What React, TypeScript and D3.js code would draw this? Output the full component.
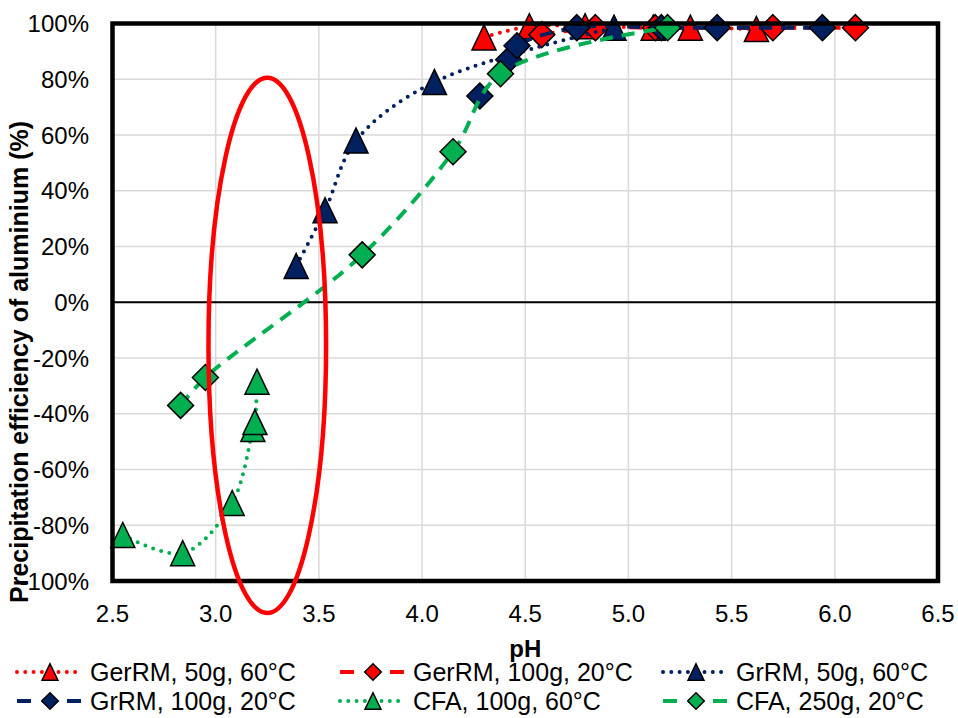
import React, { useEffect, useRef } from "react";
import * as d3 from "d3";

// axis ticks
const xTicks = [2.5, 3.0, 3.5, 4.0, 4.5, 5.0, 5.5, 6.0, 6.5];
const yTicks = [-100, -80, -60, -40, -20, 0, 20, 40, 60, 80, 100];

// [pH, precipitation efficiency %]
const gerRM50 = [[4.30, 95], [4.52, 99], [4.79, 99], [5.12, 98.5], [5.30, 98.5], [5.62, 98]];
const gerRM100 = [[4.58, 96], [4.84, 98.5], [5.13, 98.5], [5.70, 98.5], [6.10, 98.5]];
const grRM50 = [[3.39, 13], [3.53, 33], [3.68, 58], [4.06, 79], [4.93, 98.5]];
const grRM100 = [[4.28, 74], [4.42, 87], [4.46, 92], [4.75, 98.5], [5.16, 98.5], [5.43, 98.5], [5.94, 98.5]];
const cfa100 = [[2.55, -83.5], [2.84, -90], [3.08, -72], [3.18, -45.5], [3.19, -43], [3.20, -28.5]];
const cfa250 = [[2.83, -37], [2.95, -27], [3.71, 17], [4.15, 54], [4.38, 82], [5.19, 98.5]];

const seriesNames = [
  "GerRM, 50g, 60°C", "GerRM, 100g, 20°C", "GrRM, 50g, 60°C",
  "GrRM, 100g, 20°C", "CFA, 100g, 60°C", "CFA, 250g, 20°C",
];

// red ellipse annotation in data units
const ellipse = { cx: 3.25, cy: -15.5, rx: 0.285, ry: 96 };

const RED = "#ff0000";
const NAVY = "#002060";
const GREEN = "#00b050";
const FONT = "'Liberation Sans', Arial, sans-serif";

const series = [
  { name: seriesNames[0], data: gerRM50, color: RED, marker: "tri", dash: "dot" },
  { name: seriesNames[1], data: gerRM100, color: RED, marker: "dia", dash: "dash" },
  { name: seriesNames[2], data: grRM50, color: NAVY, marker: "tri", dash: "dot" },
  { name: seriesNames[3], data: grRM100, color: NAVY, marker: "dia", dash: "dash" },
  { name: seriesNames[4], data: cfa100, color: GREEN, marker: "tri", dash: "dot" },
  { name: seriesNames[5], data: cfa250, color: GREEN, marker: "dia", dash: "dash" },
];

function markerPath(type: string, s: number) {
  if (type === "tri") return `M0,${-s} L${s * 0.96},${s} L${-s * 0.96},${s} Z`;
  return `M0,${-s} L${s},0 L0,${s} L${-s},0 Z`;
}

function styleLine(sel: any, dash: string) {
  sel.attr("stroke-width", 4).attr("fill", "none");
  if (dash === "dot") sel.attr("stroke-dasharray", "0 8.3").attr("stroke-linecap", "round");
  else sel.attr("stroke-dasharray", "13 9").attr("stroke-linecap", "butt");
}

export default function App() {
  const ref = useRef<SVGSVGElement>(null);

  useEffect(() => {
    const width = 958;
    const height = 718;
    const plot = { left: 112.5, right: 938, top: 23.5, bottom: 581 };

    const svg = d3.select(ref.current).attr("width", width).attr("height", height);
    svg.selectAll("*").remove();

    const x = d3.scaleLinear().domain([2.5, 6.5]).range([plot.left, plot.right]);
    const y = d3.scaleLinear().domain([-100, 100]).range([plot.bottom, plot.top]);

    svg.append("rect").attr("width", width).attr("height", height).attr("fill", "white");

    // gridlines
    svg.append("g").selectAll("line").data(yTicks).join("line")
      .attr("x1", plot.left).attr("x2", plot.right)
      .attr("y1", d => y(d)).attr("y2", d => y(d))
      .attr("stroke", "#d9d9d9").attr("stroke-width", 1.5);
    svg.append("g").selectAll("line").data(xTicks).join("line")
      .attr("x1", d => x(d)).attr("x2", d => x(d))
      .attr("y1", plot.top).attr("y2", plot.bottom)
      .attr("stroke", "#d9d9d9").attr("stroke-width", 1.5);

    // zero line
    svg.append("line")
      .attr("x1", plot.left).attr("x2", plot.right)
      .attr("y1", y(0)).attr("y2", y(0))
      .attr("stroke", "black").attr("stroke-width", 2);

    // tick labels
    svg.append("g").selectAll("text").data(yTicks).join("text")
      .attr("x", 89).attr("y", d => y(d)).attr("dy", "0.36em")
      .attr("text-anchor", "end").attr("font-family", FONT).attr("font-size", 24)
      .text(d => `${d}%`);
    svg.append("g").selectAll("text").data(xTicks).join("text")
      .attr("x", d => x(d)).attr("y", 622)
      .attr("text-anchor", "middle").attr("font-family", FONT).attr("font-size", 24)
      .text(d => d.toFixed(1));

    // series: line then markers
    const line = d3.line<number[]>()
      .x(d => x(d[0])).y(d => y(d[1]))
      .curve(d3.curveCatmullRom.alpha(0.5));

    series.forEach(s => {
      const path = svg.append("path").attr("d", line(s.data)).attr("stroke", s.color);
      styleLine(path, s.dash);
      svg.append("g").selectAll("path").data(s.data).join("path")
        .attr("transform", d => `translate(${x(d[0])},${y(d[1])})`)
        .attr("d", markerPath(s.marker, s.marker === "tri" ? 12.5 : 13))
        .attr("fill", s.color).attr("stroke", "black").attr("stroke-width", 1.5)
        .attr("stroke-linejoin", "miter");
    });

    // plot border
    svg.append("rect")
      .attr("x", plot.left).attr("y", plot.top)
      .attr("width", plot.right - plot.left).attr("height", plot.bottom - plot.top)
      .attr("fill", "none").attr("stroke", "black").attr("stroke-width", 4.5);

    // ellipse annotation
    svg.append("ellipse")
      .attr("cx", x(ellipse.cx)).attr("cy", y(ellipse.cy))
      .attr("rx", x(ellipse.cx + ellipse.rx) - x(ellipse.cx))
      .attr("ry", y(ellipse.cy) - y(ellipse.cy + ellipse.ry))
      .attr("fill", "none").attr("stroke", RED).attr("stroke-width", 4.5);

    // axis titles
    svg.append("text")
      .attr("x", (plot.left + plot.right) / 2).attr("y", 657)
      .attr("text-anchor", "middle").attr("font-family", FONT)
      .attr("font-size", 24).attr("font-weight", "bold")
      .text("pH");
    svg.append("text")
      .attr("transform", "translate(28, 603) rotate(-90)")
      .attr("text-anchor", "start").attr("font-family", FONT)
      .attr("font-size", 25).attr("font-weight", "bold")
      .text("Precipitation efficiency of aluminium (%)");

    // legend
    const colX = [17, 340, 663];
    const rowY = [672, 701];
    series.forEach((s, i) => {
      const lx = colX[i % 3];
      const ly = rowY[Math.floor(i / 3)];
      const g = svg.append("g").attr("transform", `translate(${lx},${ly})`);
      const l = g.append("line").attr("x1", 0).attr("x2", 66).attr("y1", 0).attr("y2", 0)
        .attr("stroke", s.color);
      styleLine(l, s.dash);
      if (s.dash === "dash") l.attr("stroke-dasharray", "14 11");
      g.append("path").attr("transform", "translate(33,0)")
        .attr("d", markerPath(s.marker, 8.3))
        .attr("fill", s.color).attr("stroke", "black").attr("stroke-width", 1.5);
      g.append("text").attr("x", 73).attr("y", 0).attr("dy", "0.36em")
        .attr("font-family", FONT).attr("font-size", 25)
        .text(s.name);
    });
  }, []);

  return (
    <svg ref={ref} style={{ position: "absolute", left: 0, top: 0 }} />
  );
}
